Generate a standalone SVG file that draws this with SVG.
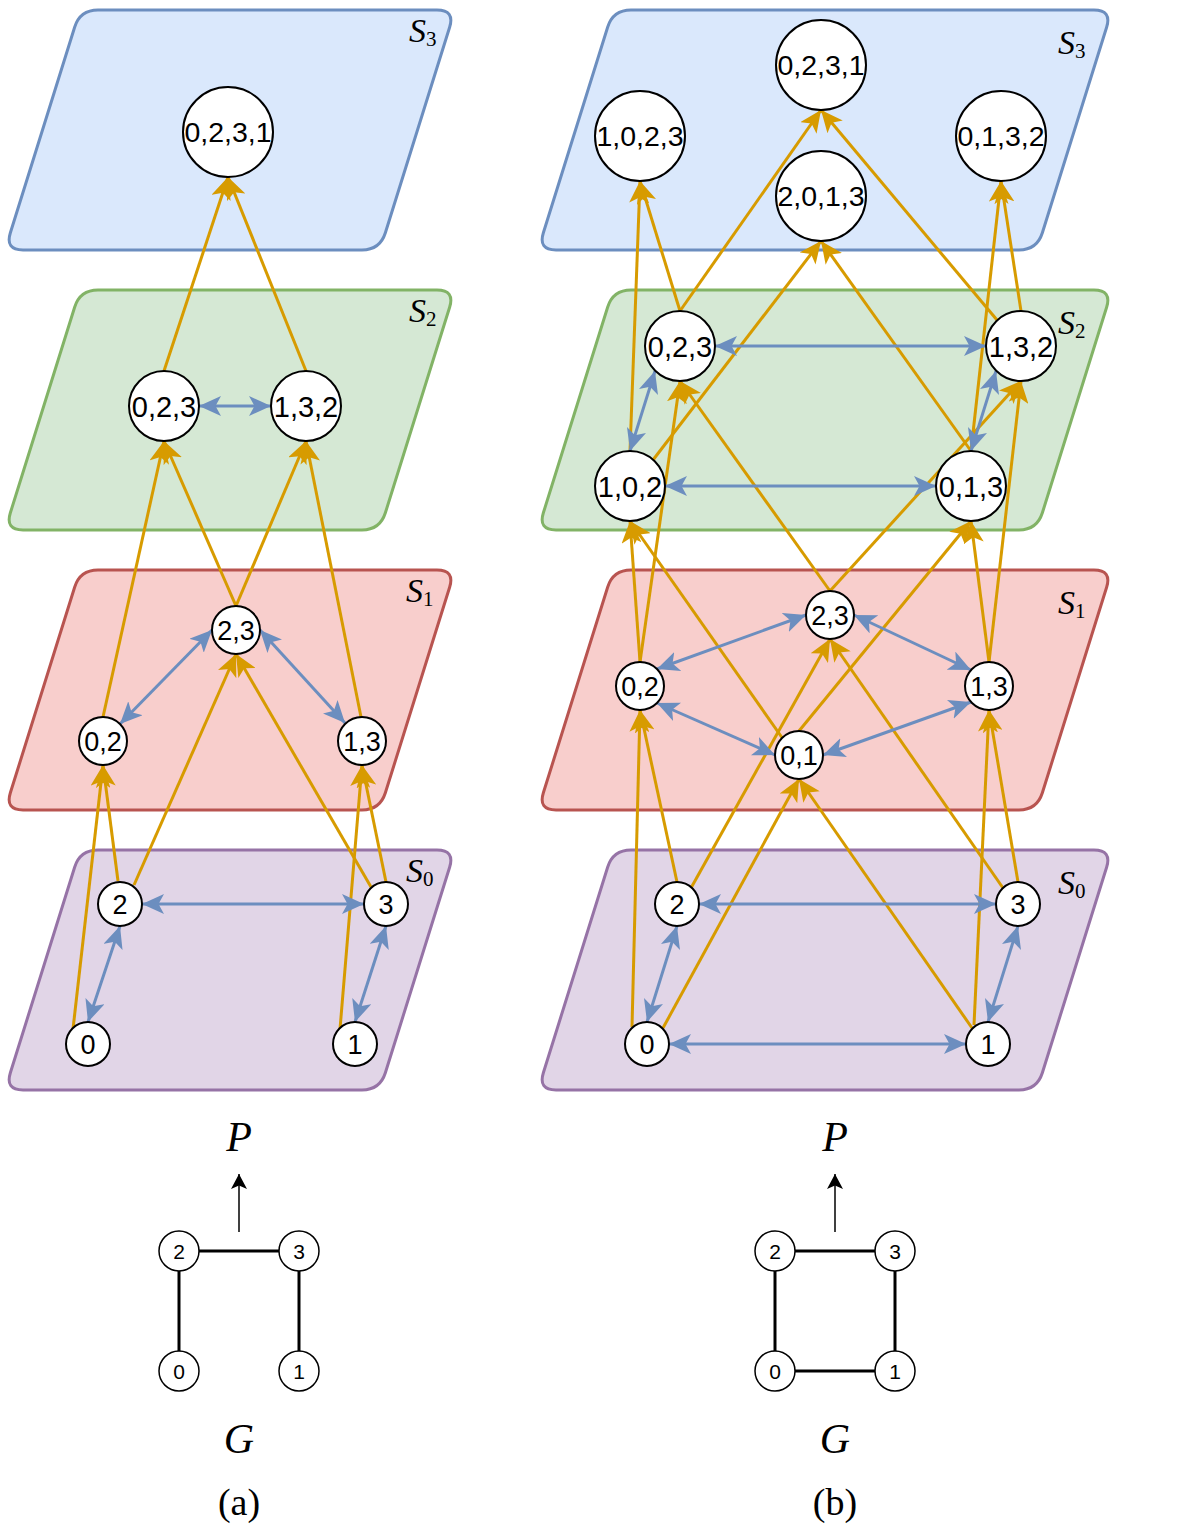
<svg xmlns="http://www.w3.org/2000/svg" xmlns:xlink="http://www.w3.org/1999/xlink" width="1197" height="1536" viewBox="0 0 1197 1536">
<style>
.s3{fill:#dae8fc;stroke:#6c8ebf;stroke-width:3}
.s2{fill:#d5e8d4;stroke:#82b366;stroke-width:3}
.s1{fill:#f8cecc;stroke:#b85450;stroke-width:3}
.s0{fill:#e1d5e7;stroke:#9673a6;stroke-width:3}
.o{stroke:#d79b00;stroke-width:3;fill:none;marker-end:url(#ao)}
.b{stroke:#6c8ebf;stroke-width:3;fill:none;marker-start:url(#ab);marker-end:url(#ab)}
.k{stroke:#000;stroke-width:3;fill:none}
.ka{stroke:#000;stroke-width:1.5;fill:none;marker-end:url(#ak)}
.n circle{fill:#fff;stroke:#000;stroke-width:2}
.n text{font-family:"Liberation Sans",Arial,sans-serif;text-anchor:middle;fill:#000}
.t4{font-size:28.5px}
.t3{font-size:29px}
.t2{font-size:27px}
.t1{font-size:27px}
.tg{font-size:21px}
.gn circle{stroke-width:1.5}
.lab{font-family:"Liberation Serif","Times New Roman",serif;font-style:italic;font-size:34px;fill:#000}
.sub{font-style:normal;font-size:21px}
.math{font-family:"Liberation Serif","Times New Roman",serif;font-style:italic;font-size:42px;text-anchor:middle;fill:#000}
.cap{font-family:"Liberation Serif","Times New Roman",serif;font-size:38px;text-anchor:middle;fill:#000}
</style>
<defs>
<marker id="ao" viewBox="0 0 22 20" refX="22" refY="10" markerWidth="22" markerHeight="20" markerUnits="userSpaceOnUse" orient="auto"><path d="M0,0 L22,10 L0,20 L5.5,10 Z" fill="#d79b00"/></marker>
<marker id="ab" viewBox="0 0 22 20" refX="22" refY="10" markerWidth="22" markerHeight="20" markerUnits="userSpaceOnUse" orient="auto-start-reverse"><path d="M0,0 L22,10 L0,20 L5.5,10 Z" fill="#6c8ebf"/></marker>
<marker id="ak" viewBox="0 0 15 16" refX="15" refY="8" markerWidth="15" markerHeight="16" markerUnits="userSpaceOnUse" orient="auto"><path d="M0,0 L15,8 L0,16 L3.5,8 Z" fill="#000"/></marker>
<path id="plL" d="M98,0 L437,0 Q455,0 449.63,17.18 L385.37,222.82 Q380,240 362,240 L23,240 Q5,240 10.37,222.82 L74.63,17.18 Q80,0 98,0 Z"/>
<path id="plR" d="M631,0 L1094,0 Q1112,0 1106.63,17.18 L1042.37,222.82 Q1037,240 1019,240 L556,240 Q538,240 543.37,222.82 L607.63,17.18 Q613,0 631,0 Z"/>
</defs>
<rect width="1197" height="1536" fill="#fff"/>
<g id="layers">
<use xlink:href="#plL" href="#plL" class="s3" y="10"/>
<use xlink:href="#plL" href="#plL" class="s2" y="290"/>
<use xlink:href="#plL" href="#plL" class="s1" y="570"/>
<use xlink:href="#plL" href="#plL" class="s0" y="850"/>
<use xlink:href="#plR" href="#plR" class="s3" y="10"/>
<use xlink:href="#plR" href="#plR" class="s2" y="290"/>
<use xlink:href="#plR" href="#plR" class="s1" y="570"/>
<use xlink:href="#plR" href="#plR" class="s0" y="850"/>
</g>
<g id="layer-labels">
<text class="lab" x="409" y="42">S<tspan class="sub" dy="4">3</tspan></text>
<text class="lab" x="409" y="322">S<tspan class="sub" dy="4">2</tspan></text>
<text class="lab" x="406" y="602">S<tspan class="sub" dy="4">1</tspan></text>
<text class="lab" x="406" y="882">S<tspan class="sub" dy="4">0</tspan></text>
<text class="lab" x="1058" y="54">S<tspan class="sub" dy="4">3</tspan></text>
<text class="lab" x="1058" y="334">S<tspan class="sub" dy="4">2</tspan></text>
<text class="lab" x="1058" y="614">S<tspan class="sub" dy="4">1</tspan></text>
<text class="lab" x="1058" y="894">S<tspan class="sub" dy="4">0</tspan></text>
</g>
<g id="connectors">
<line class="o" x1="73" y1="1029" x2="103" y2="765"/>
<line class="o" x1="118" y1="881" x2="103" y2="765"/>
<line class="o" x1="134" y1="885" x2="236" y2="654"/>
<line class="o" x1="371" y1="887" x2="236" y2="654"/>
<line class="o" x1="340" y1="1029" x2="362" y2="765"/>
<line class="o" x1="386" y1="882" x2="362" y2="765"/>
<line class="o" x1="103" y1="717" x2="164" y2="441"/>
<line class="o" x1="236" y1="606" x2="164" y2="441"/>
<line class="o" x1="236" y1="606" x2="306" y2="441"/>
<line class="o" x1="361" y1="717" x2="306" y2="441"/>
<line class="o" x1="164" y1="371" x2="228" y2="177"/>
<line class="o" x1="306" y1="371" x2="228" y2="177"/>
<line class="b" x1="88" y1="1022" x2="120" y2="926"/>
<line class="b" x1="142" y1="904" x2="364" y2="904"/>
<line class="b" x1="355" y1="1022" x2="386" y2="926"/>
<line class="b" x1="212" y1="630" x2="120" y2="724"/>
<line class="b" x1="260" y1="630" x2="345" y2="723"/>
<line class="b" x1="199" y1="406" x2="271" y2="406"/>
<line class="o" x1="632" y1="1027" x2="640" y2="710"/>
<line class="o" x1="663" y1="1028" x2="799" y2="779"/>
<line class="o" x1="677" y1="882" x2="640" y2="710"/>
<line class="o" x1="691" y1="888" x2="830" y2="639"/>
<line class="o" x1="1003" y1="888" x2="830" y2="639"/>
<line class="o" x1="1018" y1="882" x2="989" y2="710"/>
<line class="o" x1="974" y1="1025" x2="989" y2="710"/>
<line class="o" x1="972" y1="1028" x2="799" y2="779"/>
<line class="o" x1="640" y1="662" x2="630" y2="521"/>
<line class="o" x1="640" y1="662" x2="680" y2="381"/>
<line class="o" x1="783" y1="739" x2="630" y2="521"/>
<line class="o" x1="799" y1="731" x2="971" y2="521"/>
<line class="o" x1="830" y1="591" x2="680" y2="381"/>
<line class="o" x1="830" y1="591" x2="1021" y2="381"/>
<line class="o" x1="989" y1="662" x2="971" y2="521"/>
<line class="o" x1="989" y1="662" x2="1021" y2="381"/>
<line class="o" x1="680" y1="311" x2="640" y2="181"/>
<line class="o" x1="680" y1="311" x2="821" y2="110"/>
<line class="o" x1="630" y1="451" x2="640" y2="181"/>
<line class="o" x1="653" y1="460" x2="821" y2="241"/>
<line class="o" x1="971" y1="451" x2="821" y2="241"/>
<line class="o" x1="971" y1="451" x2="1001" y2="181"/>
<line class="o" x1="997" y1="320" x2="821" y2="110"/>
<line class="o" x1="1021" y1="311" x2="1001" y2="181"/>
<line class="b" x1="647" y1="1022" x2="677" y2="926"/>
<line class="b" x1="699" y1="904" x2="996" y2="904"/>
<line class="b" x1="669" y1="1044" x2="966" y2="1044"/>
<line class="b" x1="988" y1="1022" x2="1018" y2="926"/>
<line class="b" x1="657" y1="669" x2="806" y2="615"/>
<line class="b" x1="854" y1="615" x2="971" y2="670"/>
<line class="b" x1="657" y1="703" x2="775" y2="755"/>
<line class="b" x1="823" y1="755" x2="971" y2="702"/>
<line class="b" x1="715" y1="346" x2="986" y2="346"/>
<line class="b" x1="665" y1="486" x2="936" y2="486"/>
<line class="b" x1="655" y1="371" x2="630" y2="451"/>
<line class="b" x1="996" y1="371" x2="971" y2="451"/>
<line class="k" x1="199" y1="1251" x2="279" y2="1251"/>
<line class="k" x1="179" y1="1271" x2="179" y2="1351"/>
<line class="k" x1="299" y1="1271" x2="299" y2="1351"/>
<line class="k" x1="795" y1="1251" x2="875" y2="1251"/>
<line class="k" x1="775" y1="1271" x2="775" y2="1351"/>
<line class="k" x1="895" y1="1271" x2="895" y2="1351"/>
<line class="k" x1="795" y1="1371" x2="875" y2="1371"/>
<line class="ka" x1="239" y1="1232" x2="239" y2="1174"/>
<line class="ka" x1="835" y1="1232" x2="835" y2="1174"/>
</g>
<g id="a_0231" class="n"><circle cx="228" cy="132" r="45"/><text class="t4" x="228" y="142">0,2,3,1</text></g>
<g id="a_023" class="n"><circle cx="164" cy="406" r="35"/><text class="t3" x="164" y="416.5">0,2,3</text></g>
<g id="a_132" class="n"><circle cx="306" cy="406" r="35"/><text class="t3" x="306" y="416.5">1,3,2</text></g>
<g id="a_23" class="n"><circle cx="236" cy="630" r="24"/><text class="t2" x="236" y="639.5">2,3</text></g>
<g id="a_02" class="n"><circle cx="103" cy="741" r="24"/><text class="t2" x="103" y="750.5">0,2</text></g>
<g id="a_13" class="n"><circle cx="362" cy="741" r="24"/><text class="t2" x="362" y="750.5">1,3</text></g>
<g id="a_2" class="n"><circle cx="120" cy="904" r="22"/><text class="t1" x="120" y="913.5">2</text></g>
<g id="a_3" class="n"><circle cx="386" cy="904" r="22"/><text class="t1" x="386" y="913.5">3</text></g>
<g id="a_0" class="n"><circle cx="88" cy="1044" r="22"/><text class="t1" x="88" y="1053.5">0</text></g>
<g id="a_1" class="n"><circle cx="355" cy="1044" r="22"/><text class="t1" x="355" y="1053.5">1</text></g>
<g id="b_0231" class="n"><circle cx="821" cy="65" r="45"/><text class="t4" x="821" y="75">0,2,3,1</text></g>
<g id="b_1023" class="n"><circle cx="640" cy="136" r="45"/><text class="t4" x="640" y="146">1,0,2,3</text></g>
<g id="b_2013" class="n"><circle cx="821" cy="196" r="45"/><text class="t4" x="821" y="206">2,0,1,3</text></g>
<g id="b_0132" class="n"><circle cx="1001" cy="136" r="45"/><text class="t4" x="1001" y="146">0,1,3,2</text></g>
<g id="b_023" class="n"><circle cx="680" cy="346" r="35"/><text class="t3" x="680" y="356.5">0,2,3</text></g>
<g id="b_132" class="n"><circle cx="1021" cy="346" r="35"/><text class="t3" x="1021" y="356.5">1,3,2</text></g>
<g id="b_102" class="n"><circle cx="630" cy="486" r="35"/><text class="t3" x="630" y="496.5">1,0,2</text></g>
<g id="b_013" class="n"><circle cx="971" cy="486" r="35"/><text class="t3" x="971" y="496.5">0,1,3</text></g>
<g id="b_23" class="n"><circle cx="830" cy="615" r="24"/><text class="t2" x="830" y="624.5">2,3</text></g>
<g id="b_02" class="n"><circle cx="640" cy="686" r="24"/><text class="t2" x="640" y="695.5">0,2</text></g>
<g id="b_13" class="n"><circle cx="989" cy="686" r="24"/><text class="t2" x="989" y="695.5">1,3</text></g>
<g id="b_01" class="n"><circle cx="799" cy="755" r="24"/><text class="t2" x="799" y="764.5">0,1</text></g>
<g id="b_2" class="n"><circle cx="677" cy="904" r="22"/><text class="t1" x="677" y="913.5">2</text></g>
<g id="b_3" class="n"><circle cx="1018" cy="904" r="22"/><text class="t1" x="1018" y="913.5">3</text></g>
<g id="b_0" class="n"><circle cx="647" cy="1044" r="22"/><text class="t1" x="647" y="1053.5">0</text></g>
<g id="b_1" class="n"><circle cx="988" cy="1044" r="22"/><text class="t1" x="988" y="1053.5">1</text></g>
<g id="ga_2" class="n gn"><circle cx="179" cy="1251" r="20"/><text class="tg" x="179" y="1258.5">2</text></g>
<g id="ga_3" class="n gn"><circle cx="299" cy="1251" r="20"/><text class="tg" x="299" y="1258.5">3</text></g>
<g id="ga_0" class="n gn"><circle cx="179" cy="1371" r="20"/><text class="tg" x="179" y="1378.5">0</text></g>
<g id="ga_1" class="n gn"><circle cx="299" cy="1371" r="20"/><text class="tg" x="299" y="1378.5">1</text></g>
<g id="gb_2" class="n gn"><circle cx="775" cy="1251" r="20"/><text class="tg" x="775" y="1258.5">2</text></g>
<g id="gb_3" class="n gn"><circle cx="895" cy="1251" r="20"/><text class="tg" x="895" y="1258.5">3</text></g>
<g id="gb_0" class="n gn"><circle cx="775" cy="1371" r="20"/><text class="tg" x="775" y="1378.5">0</text></g>
<g id="gb_1" class="n gn"><circle cx="895" cy="1371" r="20"/><text class="tg" x="895" y="1378.5">1</text></g>
<g id="captions">
<text class="math" x="239" y="1151">P</text>
<text class="math" x="239" y="1453">G</text>
<text class="cap" x="239" y="1515">(a)</text>
<text class="math" x="835" y="1151">P</text>
<text class="math" x="835" y="1453">G</text>
<text class="cap" x="835" y="1515">(b)</text>
</g>
</svg>
